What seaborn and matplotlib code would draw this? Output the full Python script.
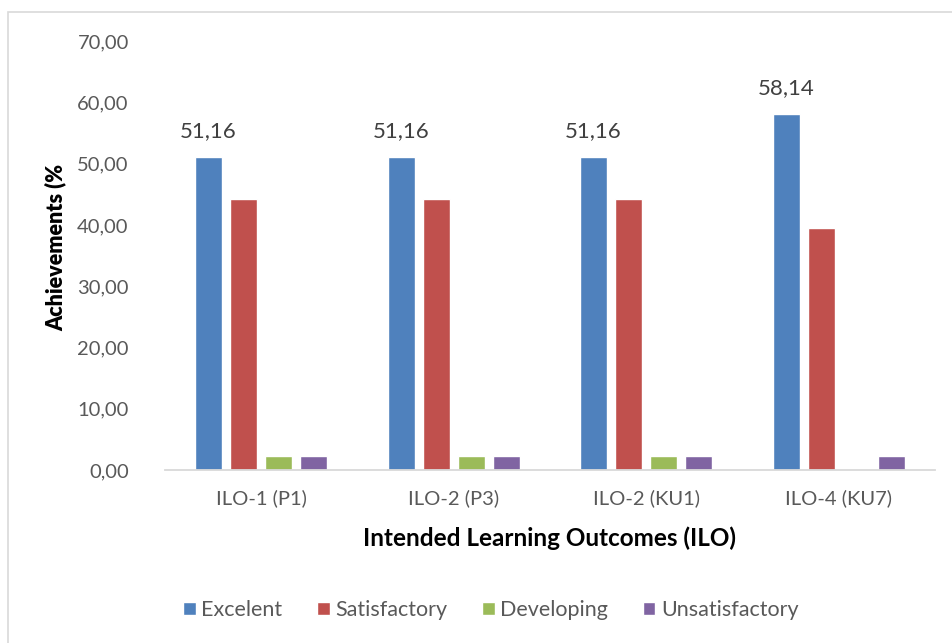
import pandas as pd
import matplotlib.pyplot as plt
import seaborn as sns
from matplotlib.patches import Rectangle

# Achievement levels per ILO
ilos = ['ILO-1 (P1)', 'ILO-2 (P3)', 'ILO-2 (KU1)', 'ILO-4 (KU7)']
levels = ['Excelent', 'Satisfactory', 'Developing', 'Unsatisfactory']
excelent = [51.16, 51.16, 51.16, 58.14]
satisfactory = [44.19, 44.19, 44.19, 39.53]
developing = [2.33, 2.33, 2.33, 0.0]
unsatisfactory = [2.33, 2.33, 2.33, 2.33]
colors = ['#4F81BD', '#C0504D', '#9BBB59', '#8064A2']

rows = []
for lvl, vals in zip(levels, [excelent, satisfactory, developing, unsatisfactory]):
    for ilo, v in zip(ilos, vals):
        rows.append({'ILO': ilo, 'Level': lvl, 'Value': v})
df = pd.DataFrame(rows)

sns.set_style('white')
plt.rcParams['font.family'] = ['Lato', 'DejaVu Sans']

fig = plt.figure(figsize=(9.53, 6.43), dpi=100)
ax = fig.add_axes([0.173, 0.269, 0.808, 0.667])

sns.barplot(data=df, x='ILO', y='Value', hue='Level', hue_order=levels,
            order=ilos, palette=colors, width=0.727, gap=0.23,
            saturation=1, ax=ax, legend=True)

# value labels only on the first series
ax.bar_label(ax.containers[0], labels=[f'{v:.2f}'.replace('.', ',') for v in excelent],
             padding=11, fontsize=16, color='#404040')

ax.set_ylim(0, 70)
ax.set_xlim(-0.5, 3.5)
ax.set_yticks(range(0, 71, 10))
ax.set_yticklabels([f'{t},00' for t in range(0, 71, 10)])
ax.tick_params(axis='y', labelsize=14.5, labelcolor='#595959', length=0, pad=26)
ax.tick_params(axis='x', labelsize=14.5, labelcolor='#595959', length=0, pad=14)

for s in ['top', 'right', 'left']:
    ax.spines[s].set_visible(False)
ax.spines['bottom'].set_color('#D9D9D9')
ax.spines['bottom'].set_linewidth(1.3)

ax.set_xlabel('Intended Learning Outcomes (ILO)', fontsize=17.5, fontweight='bold',
              color='black', labelpad=14)
ax.set_ylabel('Achievements (%', fontsize=15.5, fontweight='heavy', color='black')
ax.yaxis.set_label_coords(-0.128, 0.52)

handles, labels = ax.get_legend_handles_labels()
ax.get_legend().remove()
leg = fig.legend(handles, labels, loc='center', bbox_to_anchor=(0.515, 0.051), ncol=4,
                 frameon=False, fontsize=15.5, handlelength=0.6, handleheight=0.6,
                 handletextpad=0.25, columnspacing=1.6)
for t in leg.get_texts():
    t.set_color('#595959')

# chart frame
fig.patches.append(Rectangle((8 / 953, -0.1), 1.2, 1 - 12 / 643 + 0.1,
                             transform=fig.transFigure, fill=False,
                             edgecolor='#D9D9D9', linewidth=1.2))

fig.savefig('out.png', dpi=100)
